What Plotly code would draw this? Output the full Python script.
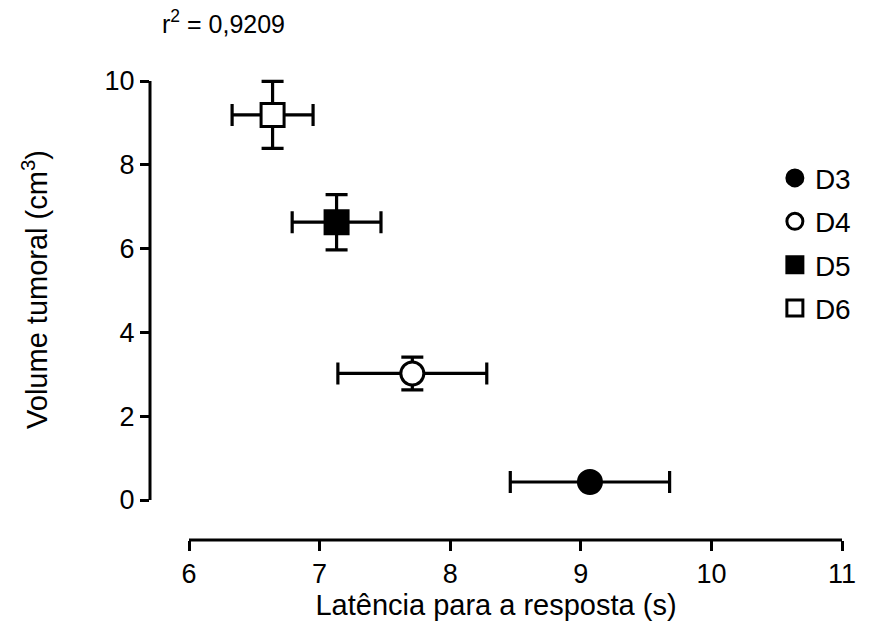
import plotly.graph_objects as go

groups = ["D3", "D4", "D5", "D6"]
latency = [9.07, 7.71, 7.13, 6.64]
latency_err = [0.61, 0.57, 0.34, 0.31]
volume = [0.43, 3.02, 6.63, 9.19]
volume_err = [0.10, 0.39, 0.66, 0.80]
symbols = ["circle", "circle-open", "square", "square-open"]
fills = ["black", "white", "black", "white"]
x_ticks = [6, 7, 8, 9, 10, 11]
y_ticks = [0, 2, 4, 6, 8, 10]
r2_text = "r<sup>2</sup> = 0,9209"
x_title = "Latência para a resposta (s)"
y_title = "Volume tumoral (cm<sup>3</sup>)"

FONT = "Liberation Sans, Arial, sans-serif"

fig = go.Figure()
for i, g in enumerate(groups):
    sym = symbols[i].replace("-open", "")
    fig.add_trace(go.Scatter(
        x=[latency[i]], y=[volume[i]], mode="markers", name=g,
        legendgroup=g,
        marker=dict(symbol=sym, size=23, color=fills[i],
                    line=dict(color="black", width=3)),
        error_x=dict(type="data", array=[latency_err[i]], color="black",
                     thickness=3.2, width=11),
        error_y=dict(type="data", array=[volume_err[i]], color="black",
                     thickness=3.2, width=11),
        cliponaxis=False,
    ))

# axis lines (offset GraphPad-style)
fig.add_shape(type="line", xref="paper", yref="y", x0=0, x1=0,
              y0=y_ticks[0], y1=y_ticks[-1], line=dict(color="black", width=3))
fig.add_shape(type="line", xref="x", yref="paper", x0=x_ticks[0], x1=x_ticks[-1],
              y0=0, y1=0, line=dict(color="black", width=3))

fig.add_annotation(text=r2_text, xref="paper", yref="paper", x=0.015, y=1.0,
                   yshift=48, xanchor="left", yanchor="middle", showarrow=False,
                   font=dict(family=FONT, size=25, color="black"))

fig.add_annotation(text=y_title, xref="paper", yref="paper", x=0, xshift=-115,
                   y=0.532, xanchor="center", yanchor="middle", textangle=-90,
                   showarrow=False, font=dict(family=FONT, size=29, color="black"))

x_left = 6 - 39 / 130.6
y_bottom = -40 / 41.9
y_top = 10 + 11 / 41.9

fig.update_layout(
    width=885, height=633,
    margin=dict(l=150, r=43, t=70, b=93),
    paper_bgcolor="white", plot_bgcolor="white",
    font=dict(family=FONT, size=27, color="black"),
    xaxis=dict(range=[x_left, 11], tickvals=x_ticks, ticktext=[str(v) for v in x_ticks],
               showgrid=False, zeroline=False, showline=False,
               ticks="outside", ticklen=10, tickwidth=3, tickcolor="black",
               tickfont=dict(family=FONT, size=27, color="black"),
               title=dict(text=x_title, font=dict(family=FONT, size=29, color="black"), standoff=4)),
    yaxis=dict(range=[y_bottom, y_top], tickvals=y_ticks, ticktext=[str(v) for v in y_ticks],
               showgrid=False, zeroline=False, showline=False,
               ticks="outside", ticklen=9, tickwidth=3, tickcolor="black",
               tickfont=dict(family=FONT, size=27, color="black")),
    legend=dict(x=0.903, y=0.823, xanchor="left", yanchor="top",
                font=dict(family=FONT, size=28, color="black"), tracegroupgap=4,
                bgcolor="rgba(0,0,0,0)", itemsizing="trace"),
    showlegend=True,
)

fig.write_html("out.html")
